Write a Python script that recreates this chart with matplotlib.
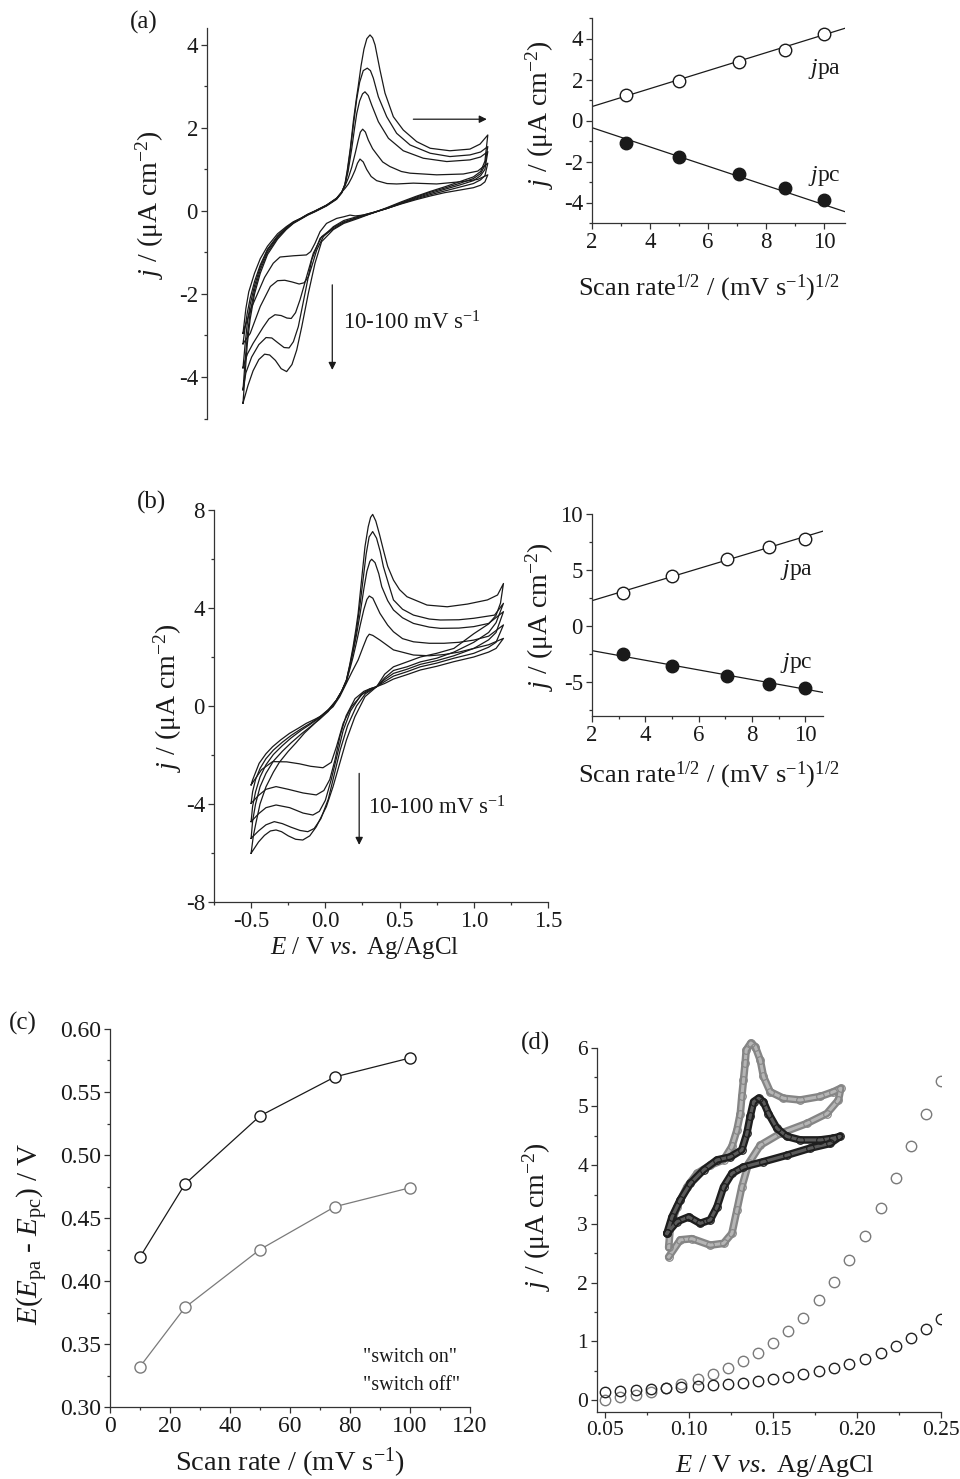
import matplotlib
matplotlib.use('Agg')
import matplotlib.pyplot as plt
from matplotlib.ticker import MultipleLocator, FormatStrFormatter

plt.rcParams['font.family'] = ['Liberation Serif', 'DejaVu Serif']
plt.rcParams['mathtext.fontset'] = 'custom'
plt.rcParams['mathtext.rm'] = 'Liberation Serif'
plt.rcParams['mathtext.it'] = 'Liberation Serif:italic'
plt.rcParams['axes.unicode_minus'] = False

W, H = 960, 1479
INK = '#1a1a1a'
GRAY = '#7a7a7a'

# ---------------- data ----------------
# (a) cyclic voltammograms, 10 / 25 / 50 / 75 / 100 mV s-1 (forward then reverse)
a_E1 = [-0.5, -0.48, -0.46, -0.42, -0.38, -0.33, -0.26, -0.2, -0.15, -0.1, -0.05, 0.0, 0.08, 0.15, 0.185, 0.21, 0.232,
        0.255, 0.278, 0.295, 0.3125, 0.335, 0.359, 0.39, 0.428, 0.5, 0.567, 0.683, 0.845, 1.03, 1.13, 1.2,
        1.18, 1.15, 1.1, 1.0, 0.9, 0.8, 0.7, 0.6, 0.5, 0.4, 0.335, 0.28, 0.243, 0.2, 0.15, 0.08, 0.035, 0.0, -0.03,
        -0.06, -0.15, -0.243, -0.29, -0.35, -0.4, -0.45, -0.5]
a_j1 = [-2.95, -2.35, -1.95, -1.5, -1.15, -0.85, -0.55, -0.38, -0.26, -0.18, -0.08, 0.0, 0.14, 0.31, 0.45, 0.55, 0.65,
        0.8, 0.98, 1.15, 1.25, 1.18, 1.0, 0.83, 0.73, 0.66, 0.65, 0.67, 0.65, 0.71, 0.76, 0.87,
        0.7, 0.62, 0.56, 0.5, 0.44, 0.36, 0.27, 0.17, 0.06, -0.04, -0.1, -0.12, -0.1, -0.14, -0.18, -0.3, -0.5, -0.78,
        -0.98, -1.06, -1.08, -1.11, -1.26, -1.6, -2.0, -2.4, -2.95]
a_E2 = [-0.5, -0.485, -0.47, -0.45, -0.42, -0.38, -0.33, -0.26, -0.2, -0.15, -0.1, -0.05, 0.0, 0.08, 0.15, 0.185, 0.208,
        0.232, 0.255, 0.28, 0.3, 0.315, 0.331, 0.35, 0.37, 0.4, 0.428, 0.47, 0.52, 0.6, 0.66, 0.845, 1.03, 1.13, 1.2,
        1.18, 1.15, 1.1, 1.0, 0.9, 0.8, 0.7, 0.6, 0.5, 0.4, 0.3, 0.2, 0.127, 0.058, 0.012, -0.023, -0.045, -0.075,
        -0.11, -0.16, -0.21, -0.26, -0.31, -0.38, -0.45, -0.5]
a_j2 = [-3.2, -2.8, -2.45, -2.1, -1.7, -1.3, -0.92, -0.6, -0.4, -0.27, -0.18, -0.08, 0.0, 0.14, 0.3, 0.45, 0.6,
        0.8, 1.05, 1.4, 1.7, 1.9, 1.97, 1.9, 1.71, 1.5, 1.37, 1.18, 1.07, 0.95, 0.91, 0.87, 0.89, 0.96, 1.15,
        0.85, 0.75, 0.66, 0.57, 0.48, 0.39, 0.29, 0.18, 0.06, -0.04, -0.13, -0.23, -0.38, -0.62, -0.94, -1.34, -1.58,
        -1.73, -1.76, -1.71, -1.67, -1.68, -1.82, -2.3, -2.95, -3.2]
a_E3 = [-0.5, -0.485, -0.47, -0.45, -0.42, -0.38, -0.33, -0.26, -0.2, -0.15, -0.1, -0.05, 0.0, 0.08, 0.15, 0.185, 0.208,
        0.23, 0.255, 0.275, 0.29, 0.31, 0.33, 0.347, 0.37, 0.394, 0.44, 0.51, 0.613, 0.752, 0.915, 1.076, 1.15, 1.2,
        1.18, 1.15, 1.1, 1.0, 0.9, 0.8, 0.7, 0.6, 0.5, 0.4, 0.3, 0.2, 0.127, 0.046, -0.012, -0.058, -0.104, -0.135,
        -0.165, -0.195, -0.235, -0.278, -0.32, -0.36, -0.43, -0.47, -0.5]
a_j3 = [-3.78, -3.2, -2.7, -2.25, -1.8, -1.35, -0.95, -0.62, -0.41, -0.28, -0.19, -0.09, -0.01, 0.13, 0.3, 0.45, 0.63,
        0.95, 1.5, 2.0, 2.35, 2.65, 2.82, 2.87, 2.78, 2.55, 2.15, 1.75, 1.45, 1.27, 1.19, 1.23, 1.3, 1.43,
        1.0, 0.85, 0.73, 0.62, 0.52, 0.42, 0.31, 0.19, 0.06, -0.05, -0.15, -0.26, -0.4, -0.62, -1.02, -1.58, -2.14,
        -2.45, -2.59, -2.58, -2.52, -2.5, -2.6, -2.8, -3.19, -3.45, -3.78]
a_E4 = [-0.5, -0.485, -0.47, -0.45, -0.42, -0.38, -0.33, -0.26, -0.2, -0.15, -0.1, -0.05, 0.0, 0.08, 0.15, 0.185, 0.208,
        0.225, 0.245, 0.266, 0.29, 0.31, 0.335, 0.363, 0.385, 0.405, 0.44, 0.498, 0.567, 0.66, 0.8, 0.937, 1.076, 1.15,
        1.2, 1.18, 1.15, 1.1, 1.0, 0.9, 0.8, 0.7, 0.6, 0.5, 0.4, 0.3, 0.2, 0.127, 0.035, -0.023, -0.069, -0.116,
        -0.15, -0.18, -0.215, -0.26, -0.3, -0.34, -0.39, -0.44, -0.48, -0.5]
a_j4 = [-4.31, -3.6, -3.0, -2.45, -1.9, -1.42, -1.0, -0.65, -0.43, -0.29, -0.19, -0.09, -0.01, 0.13, 0.29, 0.44, 0.63,
        0.95, 1.45, 2.05, 2.7, 3.1, 3.38, 3.44, 3.38, 3.2, 2.75, 2.27, 1.87, 1.59, 1.39, 1.31, 1.35, 1.42,
        1.55, 1.1, 0.9, 0.78, 0.66, 0.55, 0.45, 0.33, 0.2, 0.07, -0.05, -0.16, -0.28, -0.43, -0.66, -1.18, -1.98, -2.79,
        -3.15, -3.3, -3.29, -3.17, -3.06, -3.05, -3.22, -3.52, -3.9, -4.31]
a_E5 = [-0.5, -0.485, -0.47, -0.45, -0.42, -0.38, -0.33, -0.26, -0.2, -0.15, -0.1, -0.05, 0.0, 0.08, 0.15, 0.185, 0.208,
        0.225, 0.245, 0.266, 0.285, 0.3, 0.32, 0.34, 0.36, 0.382, 0.4, 0.417, 0.451, 0.486, 0.544, 0.613, 0.706, 0.8,
        0.937, 1.076, 1.146, 1.2, 1.18, 1.15, 1.1, 1.0, 0.9, 0.8, 0.7, 0.6, 0.5, 0.4, 0.3, 0.2, 0.127, 0.046, 0.0,
        -0.046, -0.092, -0.127, -0.16, -0.197, -0.235, -0.275, -0.315, -0.35, -0.39, -0.43, -0.465, -0.5]
a_j5 = [-4.63, -3.9, -3.2, -2.6, -2.0, -1.5, -1.05, -0.68, -0.45, -0.3, -0.2, -0.1, -0.02, 0.12, 0.28, 0.43, 0.65,
        1.0, 1.5, 2.15, 2.65, 3.0, 3.5, 3.9, 4.15, 4.24, 4.17, 4.0, 3.4, 2.84, 2.27, 1.95, 1.67, 1.51,
        1.45, 1.49, 1.61, 1.83, 1.2, 0.95, 0.82, 0.7, 0.58, 0.47, 0.35, 0.22, 0.08, -0.05, -0.18, -0.3, -0.45, -0.74,
        -1.26, -1.98, -2.79, -3.35, -3.7, -3.87, -3.8, -3.6, -3.47, -3.45, -3.58, -3.85, -4.2, -4.63]

# (b) cyclic voltammograms
b_E1 = [-0.5, -0.49, -0.446, -0.4, -0.355, -0.3, -0.242, -0.18, -0.129, -0.07, -0.016, 0.052, 0.097, 0.142, 0.18,
        0.221, 0.255, 0.28, 0.296, 0.32, 0.368, 0.459, 0.594, 0.7, 0.8, 0.9, 1.0, 1.1, 1.2,
        1.15, 1.1, 1.0, 0.866, 0.75, 0.64, 0.55, 0.459, 0.4, 0.346, 0.3, 0.255, 0.176, 0.12, 0.075, 0.04, -0.016,
        -0.1, -0.174, -0.26, -0.355, -0.43, -0.5]
b_j1 = [-3.22, -3.02, -2.34, -1.95, -1.66, -1.38, -1.12, -0.9, -0.71, -0.54, -0.37, -0.03, 0.38, 0.93, 1.4,
        1.88, 2.42, 2.8, 2.93, 2.88, 2.69, 2.29, 2.08, 2.05, 2.1, 2.2, 2.35, 2.5, 2.76,
        2.35, 2.2, 2.0, 1.81, 1.62, 1.47, 1.28, 1.1, 0.92, 0.79, 0.7, 0.52, -0.03, -0.71, -1.66, -2.3, -2.52,
        -2.46, -2.36, -2.28, -2.27, -2.6, -3.22]
b_E2 = [-0.5, -0.49, -0.47, -0.44, -0.4, -0.35, -0.29, -0.23, -0.16, -0.1, -0.04, 0.02, 0.075, 0.11, 0.142, 0.165,
        0.187, 0.21, 0.235, 0.26, 0.28, 0.296, 0.32, 0.368, 0.42, 0.459, 0.52, 0.594, 0.7, 0.8, 0.9, 1.0, 1.1, 1.2,
        1.15, 1.1, 1.0, 0.866, 0.75, 0.64, 0.55, 0.459, 0.4, 0.346, 0.3, 0.26, 0.2, 0.14, 0.1, 0.065, 0.03, -0.01,
        -0.061, -0.15, -0.25, -0.332, -0.4, -0.45, -0.5]
b_j2 = [-3.97, -3.5, -3.0, -2.55, -2.15, -1.8, -1.48, -1.2, -0.92, -0.7, -0.45, -0.15, 0.24, 0.6, 1.0, 1.5,
        2.0, 2.6, 3.3, 3.95, 4.35, 4.49, 4.4, 3.78, 3.3, 3.03, 2.75, 2.62, 2.56, 2.56, 2.6, 2.69, 2.85, 3.31,
        2.6, 2.4, 2.15, 1.95, 1.75, 1.6, 1.4, 1.22, 1.0, 0.79, 0.7, 0.6, 0.3, -0.4, -1.2, -2.2, -3.0, -3.45,
        -3.63, -3.55, -3.4, -3.29, -3.4, -3.65, -3.97]
b_E3 = [-0.5, -0.49, -0.47, -0.44, -0.4, -0.35, -0.29, -0.23, -0.16, -0.1, -0.04, 0.02, 0.075, 0.11, 0.142, 0.165,
        0.187, 0.21, 0.235, 0.26, 0.28, 0.3, 0.312, 0.335, 0.36, 0.38, 0.42, 0.459, 0.52, 0.594, 0.7, 0.775, 0.9,
        1.0, 1.1, 1.2,
        1.15, 1.1, 1.0, 0.866, 0.75, 0.64, 0.55, 0.459, 0.4, 0.346, 0.3, 0.24, 0.17, 0.12, 0.08, 0.04, 0.0, -0.04,
        -0.084, -0.15, -0.24, -0.332, -0.4, -0.45, -0.5]
b_j3 = [-4.72, -4.1, -3.5, -2.9, -2.4, -1.98, -1.62, -1.3, -0.98, -0.74, -0.48, -0.18, 0.24, 0.6, 1.03, 1.6,
        2.2, 2.9, 3.8, 4.8, 5.5, 5.9, 5.99, 5.85, 5.4, 4.87, 4.3, 3.92, 3.6, 3.37, 3.22, 3.17, 3.18,
        3.24, 3.37, 3.85,
        3.0, 2.7, 2.35, 2.05, 1.85, 1.7, 1.5, 1.33, 1.08, 0.79, 0.65, 0.45, -0.2, -1.0, -2.0, -3.0, -3.85, -4.3,
        -4.45, -4.37, -4.15, -4.04, -4.15, -4.4, -4.72]
b_E4 = [-0.5, -0.49, -0.47, -0.44, -0.4, -0.35, -0.29, -0.23, -0.16, -0.1, -0.04, 0.02, 0.075, 0.11, 0.142, 0.165,
        0.187, 0.21, 0.235, 0.255, 0.275, 0.295, 0.319, 0.345, 0.37, 0.391, 0.43, 0.459, 0.52, 0.594, 0.7, 0.775,
        0.9, 1.0, 1.14, 1.2,
        1.15, 1.1, 1.0, 0.866, 0.75, 0.64, 0.55, 0.459, 0.4, 0.346, 0.27, 0.21, 0.15, 0.1, 0.06, 0.02, -0.03,
        -0.075, -0.118, -0.17, -0.23, -0.29, -0.344, -0.4, -0.45, -0.5]
b_j4 = [-5.4, -4.7, -4.0, -3.3, -2.75, -2.25, -1.85, -1.5, -1.13, -0.84, -0.55, -0.22, 0.24, 0.6, 1.05, 1.65,
        2.3, 3.1, 4.2, 5.2, 6.2, 6.9, 7.12, 6.85, 6.3, 5.69, 4.9, 4.33, 3.95, 3.71, 3.55, 3.51,
        3.52, 3.58, 3.71, 4.19,
        3.4, 3.0, 2.6, 2.2, 1.95, 1.8, 1.6, 1.45, 1.15, 0.79, 0.5, 0.0, -0.8, -1.8, -2.8, -3.8, -4.6,
        -5.0, -5.13, -5.08, -4.95, -4.8, -4.72, -4.85, -5.1, -5.4]
b_E5 = [-0.5, -0.485, -0.468, -0.44, -0.4, -0.35, -0.31, -0.25, -0.197, -0.14, -0.084, -0.03, 0.02, 0.05, 0.075,
        0.11, 0.142, 0.165, 0.187, 0.205, 0.221, 0.244, 0.267, 0.289, 0.305, 0.319, 0.34, 0.365, 0.391, 0.42, 0.459,
        0.5, 0.55, 0.685, 0.821, 0.957, 1.092, 1.16, 1.2,
        1.18, 1.15, 1.1, 1.0, 0.866, 0.75, 0.64, 0.55, 0.459, 0.4, 0.346, 0.267, 0.199, 0.142, 0.097, 0.052, 0.007,
        -0.061, -0.105, -0.152, -0.2, -0.25, -0.295, -0.332, -0.37, -0.41, -0.45, -0.5]
b_j5 = [-6.01, -5.3, -4.79, -4.0, -3.3, -2.7, -2.3, -1.85, -1.5, -1.1, -0.78, -0.45, -0.15, 0.0, 0.24,
        0.6, 1.06, 1.7, 2.42, 3.1, 3.78, 5.14, 6.5, 7.32, 7.7, 7.82, 7.55, 7.0, 6.37, 5.7, 5.14,
        4.75, 4.46, 4.12, 4.05, 4.16, 4.33, 4.53, 5.0,
        4.2, 3.7, 3.35, 2.95, 2.35, 2.15, 2.0, 1.8, 1.6, 1.3, 0.79, 0.38, -0.44, -1.39, -2.34, -3.29, -4.11,
        -4.93, -5.3, -5.47, -5.44, -5.3, -5.13, -5.06, -5.1, -5.28, -5.55, -6.01]

# peak current vs square root of scan rate
sqrt_rate = [3.16, 5.0, 7.07, 8.66, 10.0]
a_jpa = [1.23, 1.95, 2.85, 3.43, 4.23]
a_jpc = [-1.12, -1.79, -2.60, -3.30, -3.90]
b_jpa = [2.92, 4.47, 5.95, 7.08, 7.77]
b_jpc = [-2.53, -3.57, -4.43, -5.21, -5.57]
# linear fits (slope, intercept)
a_fit_pa = (0.438, -0.196)
a_fit_pc = (-0.470, 0.59)
b_fit_pa = (0.716, 0.83)
b_fit_pc = (-0.430, -1.34)

# (c) peak separation
scan_rate = [10, 25, 50, 75, 100]
dE_on = [0.419, 0.477, 0.531, 0.562, 0.577]
dE_off = [0.332, 0.379, 0.425, 0.459, 0.474]

# (d) switching curves
d_E = [0.050, 0.059, 0.068, 0.077, 0.086, 0.095, 0.105, 0.114, 0.123, 0.132, 0.141, 0.150,
       0.159, 0.168, 0.177, 0.186, 0.195, 0.205, 0.214, 0.223, 0.232, 0.241, 0.250]
d_j_gray = [0.0, 0.05, 0.09, 0.14, 0.21, 0.28, 0.37, 0.45, 0.55, 0.67, 0.81, 0.97,
            1.18, 1.40, 1.70, 2.01, 2.39, 2.80, 3.27, 3.78, 4.32, 4.87, 5.44]
d_j_black = [0.14, 0.16, 0.17, 0.19, 0.21, 0.23, 0.24, 0.26, 0.27, 0.29, 0.33, 0.36,
             0.40, 0.44, 0.49, 0.55, 0.62, 0.71, 0.81, 0.92, 1.06, 1.22, 1.39]
loop_gray_E = [0.0877, 0.0946, 0.1016, 0.1125, 0.1204, 0.1254, 0.1284, 0.1313, 0.1353, 0.1423, 0.1542, 0.1700,
               0.1820, 0.1889, 0.1903, 0.1859, 0.1780, 0.1661, 0.1561, 0.1482, 0.1442, 0.1423, 0.1393, 0.1367,
               0.1339, 0.1333, 0.1323, 0.1313, 0.1304, 0.1284, 0.1254, 0.1204, 0.1125, 0.1046, 0.0986, 0.0927,
               0.0887, 0.0877]
loop_gray_j = [2.44, 2.73, 2.75, 2.64, 2.67, 2.84, 3.24, 3.63, 4.03, 4.34, 4.54, 4.71,
               4.88, 5.11, 5.31, 5.25, 5.17, 5.11, 5.14, 5.25, 5.51, 5.79, 6.02, 6.08,
               5.96, 5.74, 5.45, 5.17, 4.88, 4.60, 4.32, 4.09, 4.00, 3.86, 3.63, 3.29,
               2.95, 2.60]
loop_black_E = [0.0867, 0.0927, 0.0996, 0.1065, 0.1125, 0.1165, 0.1204, 0.1254, 0.1323, 0.1442, 0.1581, 0.1720,
                0.1839, 0.1899, 0.1859, 0.1780, 0.1661, 0.1581, 0.1522, 0.1472, 0.1442, 0.1413, 0.1383, 0.1363,
                0.1343, 0.1313, 0.1244, 0.1165, 0.1085, 0.1006, 0.0946, 0.0897, 0.0867]
loop_black_j = [2.84, 3.04, 3.12, 3.01, 3.07, 3.29, 3.63, 3.86, 3.97, 4.06, 4.17, 4.29,
                4.37, 4.49, 4.46, 4.43, 4.43, 4.49, 4.63, 4.88, 5.08, 5.14, 5.08, 4.83,
                4.54, 4.26, 4.14, 4.09, 3.92, 3.69, 3.41, 3.12, 2.84]

# ---------------- figure ----------------
fig = plt.figure(figsize=(W / 100, H / 100), dpi=100)


def px_axes(x0, y0, x1, y1):
    return fig.add_axes([x0 / W, 1 - y1 / H, (x1 - x0) / W, (y1 - y0) / H])


def ftext(px, py, s, size, **kw):
    fig.text(px / W, 1 - py / H, s, fontsize=size, color=INK, **kw)


def style(ax, size=16.5):
    for side in ['top', 'right']:
        ax.spines[side].set_visible(False)
    for side in ['left', 'bottom']:
        ax.spines[side].set_linewidth(0.9)
        ax.spines[side].set_color('#333333')
    ax.tick_params(which='both', direction='out', color='#333333', width=0.9, labelsize=size,
                   labelcolor=INK, pad=2)
    ax.tick_params(which='major', length=4.5)
    ax.tick_params(which='minor', length=2.5)
    ax.patch.set_alpha(0)


jlab = r'$j$ / (μA cm$^{-2}$)'
rate_lab = r'Scan rate$^{1/2}$ / (mV s$^{-1}$)$^{1/2}$'
E_lab = r'$E$ / V $vs.$ Ag/AgCl'
arrow_kw = dict(arrowstyle='-|>', color=INK, lw=0.9, mutation_scale=11, shrinkA=0, shrinkB=0)

# ---- (a) CV ----
ax = px_axes(207, 28.3, 531, 418.5)
style(ax)
ax.spines['bottom'].set_visible(False)
ax.set_xlim(-0.75, 1.5)
ax.set_ylim(-5, 4.4)
ax.set_xticks([])
ax.yaxis.set_major_locator(MultipleLocator(2))
ax.yaxis.set_minor_locator(MultipleLocator(1))
for E, j in [(a_E1, a_j1), (a_E2, a_j2), (a_E3, a_j3), (a_E4, a_j4), (a_E5, a_j5)]:
    ax.plot(E, j, color=INK, lw=0.9, solid_joinstyle='round')
ax.annotate('', xy=(0.12, -3.83), xytext=(0.12, -1.78), arrowprops=arrow_kw)
ax.annotate('', xy=(1.193, 2.21), xytext=(0.683, 2.21), arrowprops=arrow_kw)
ftext(343, 323, r'10-100 mV s$^{-1}$', 16.5, ha='left', va='center')
ftext(150, 205, jlab, 20, rotation=90, ha='center', va='center')
ftext(144, 22, '(a)', 18, ha='center', va='center')

# ---- (a) peak currents ----
ax = px_axes(592, 18, 845, 223)
style(ax)
ax.set_xlim(2, 10.72)
ax.set_ylim(-5, 5)
ax.xaxis.set_major_locator(MultipleLocator(2))
ax.xaxis.set_minor_locator(MultipleLocator(1))
ax.yaxis.set_major_locator(MultipleLocator(2))
ax.yaxis.set_minor_locator(MultipleLocator(1))
ax.axline((0, a_fit_pa[1]), slope=a_fit_pa[0], color=INK, lw=0.9)
ax.axline((0, a_fit_pc[1]), slope=a_fit_pc[0], color=INK, lw=0.9)
ax.plot(sqrt_rate, a_jpa, 'o', ms=9, mfc='white', mec=INK, mew=1.0)
ax.plot(sqrt_rate, a_jpc, 'o', ms=9, mfc=INK, mec=INK, mew=1.0)
ftext(808, 69, r'$j$pa', 17, ha='left', va='center')
ftext(808, 176, r'$j$pc', 17, ha='left', va='center')
ftext(540, 115, jlab, 20, rotation=90, ha='center', va='center')
ftext(709, 288, rate_lab, 19, ha='center', va='center')

# ---- (b) CV ----
ax = px_axes(214, 510, 548, 902)
style(ax)
ax.set_xlim(-0.75, 1.5)
ax.set_ylim(-8, 8)
ax.xaxis.set_major_locator(MultipleLocator(0.5))
ax.xaxis.set_minor_locator(MultipleLocator(0.25))
ax.xaxis.set_major_formatter(FormatStrFormatter('%.1f'))
ax.yaxis.set_major_locator(MultipleLocator(4))
ax.yaxis.set_minor_locator(MultipleLocator(2))
for E, j in [(b_E1, b_j1), (b_E2, b_j2), (b_E3, b_j3), (b_E4, b_j4), (b_E5, b_j5)]:
    ax.plot(E, j, color=INK, lw=0.9, solid_joinstyle='round')
ax.annotate('', xy=(0.228, -5.67), xytext=(0.228, -2.75), arrowprops=arrow_kw)
ftext(368, 808, r'10-100 mV s$^{-1}$', 16.5, ha='left', va='center')
ftext(168, 698, jlab, 20, rotation=90, ha='center', va='center')
ftext(365, 948, E_lab, 18, ha='center', va='center')
ftext(151, 502, '(b)', 18, ha='center', va='center')

# ---- (b) peak currents ----
ax = px_axes(592, 514, 823, 715.6)
style(ax)
ax.set_xlim(2, 10.67)
ax.set_ylim(-8, 10)
ax.xaxis.set_major_locator(MultipleLocator(2))
ax.xaxis.set_minor_locator(MultipleLocator(1))
ax.yaxis.set_major_locator(MultipleLocator(5))
ax.yaxis.set_minor_locator(MultipleLocator(2.5))
ax.axline((0, b_fit_pa[1]), slope=b_fit_pa[0], color=INK, lw=0.9)
ax.axline((0, b_fit_pc[1]), slope=b_fit_pc[0], color=INK, lw=0.9)
ax.plot(sqrt_rate, b_jpa, 'o', ms=9, mfc='white', mec=INK, mew=1.0)
ax.plot(sqrt_rate, b_jpc, 'o', ms=9, mfc=INK, mec=INK, mew=1.0)
ftext(780, 570, r'$j$pa', 17, ha='left', va='center')
ftext(780, 663, r'$j$pc', 17, ha='left', va='center')
ftext(540, 617, jlab, 20, rotation=90, ha='center', va='center')
ftext(709, 775, rate_lab, 19, ha='center', va='center')

# ---- (c) peak separation ----
ax = px_axes(110, 1029, 470, 1407)
style(ax, 17)
ax.set_xlim(0, 120)
ax.set_ylim(0.30, 0.60)
ax.xaxis.set_major_locator(MultipleLocator(20))
ax.xaxis.set_minor_locator(MultipleLocator(10))
ax.yaxis.set_major_locator(MultipleLocator(0.05))
ax.yaxis.set_minor_locator(MultipleLocator(0.025))
ax.yaxis.set_major_formatter(FormatStrFormatter('%.2f'))
ax.plot(scan_rate, dE_on, '-o', color=INK, lw=0.9, ms=8, mfc='white', mec=INK, mew=1.0)
ax.plot(scan_rate, dE_off, '-o', color=GRAY, lw=0.9, ms=8, mfc='white', mec=GRAY, mew=1.0)
ftext(363, 1358, '"switch on"', 14.5, ha='left', va='center')
ftext(363, 1385, '"switch off"', 14.5, ha='left', va='center')
ftext(33, 1234, r'$E$($E_{\rm pa}$ - $E_{\rm pc}$) / V', 21, rotation=90, ha='center', va='center')
ftext(290, 1463, r'Scan rate / (mV s$^{-1}$)', 20.5, ha='center', va='center')
ftext(23, 1023, '(c)', 18, ha='center', va='center')

# ---- (d) switching ----
ax = px_axes(597, 1047.7, 941, 1412)
style(ax, 15.5)
ax.set_xlim(0.045, 0.25)
ax.set_ylim(-0.2, 6)
ax.xaxis.set_major_locator(MultipleLocator(0.05))
ax.xaxis.set_minor_locator(MultipleLocator(0.025))
ax.xaxis.set_major_formatter(FormatStrFormatter('%.2f'))
ax.yaxis.set_major_locator(MultipleLocator(1))
ax.yaxis.set_minor_locator(MultipleLocator(0.5))
for E, j, outer, inner in [(loop_gray_E, loop_gray_j, '#858585', '#b5b5b5'),
                           (loop_black_E, loop_black_j, '#1e1e1e', '#5a5a5a')]:
    ax.plot(E, j, color=outer, lw=5.5, solid_joinstyle='round', solid_capstyle='round', clip_on=False)
    ax.plot(E, j, color=inner, lw=2.2, solid_joinstyle='round', clip_on=False)
    ax.plot(E, j, 'o', ls='none', ms=5.5, mfc='none', mec=outer, mew=0.8, clip_on=False)
ax.plot(d_E, d_j_gray, 'o', ls='none', ms=7.5, mfc='none', mec=GRAY, mew=1.0)
ax.plot(d_E, d_j_black, 'o', ls='none', ms=7.5, mfc='none', mec='#222222', mew=1.0)
ftext(537, 1217, jlab, 20, rotation=90, ha='center', va='center')
ftext(775, 1466, E_lab, 19, ha='center', va='center')
ftext(535, 1043, '(d)', 18, ha='center', va='center')

fig.savefig('out.png', dpi=100)
